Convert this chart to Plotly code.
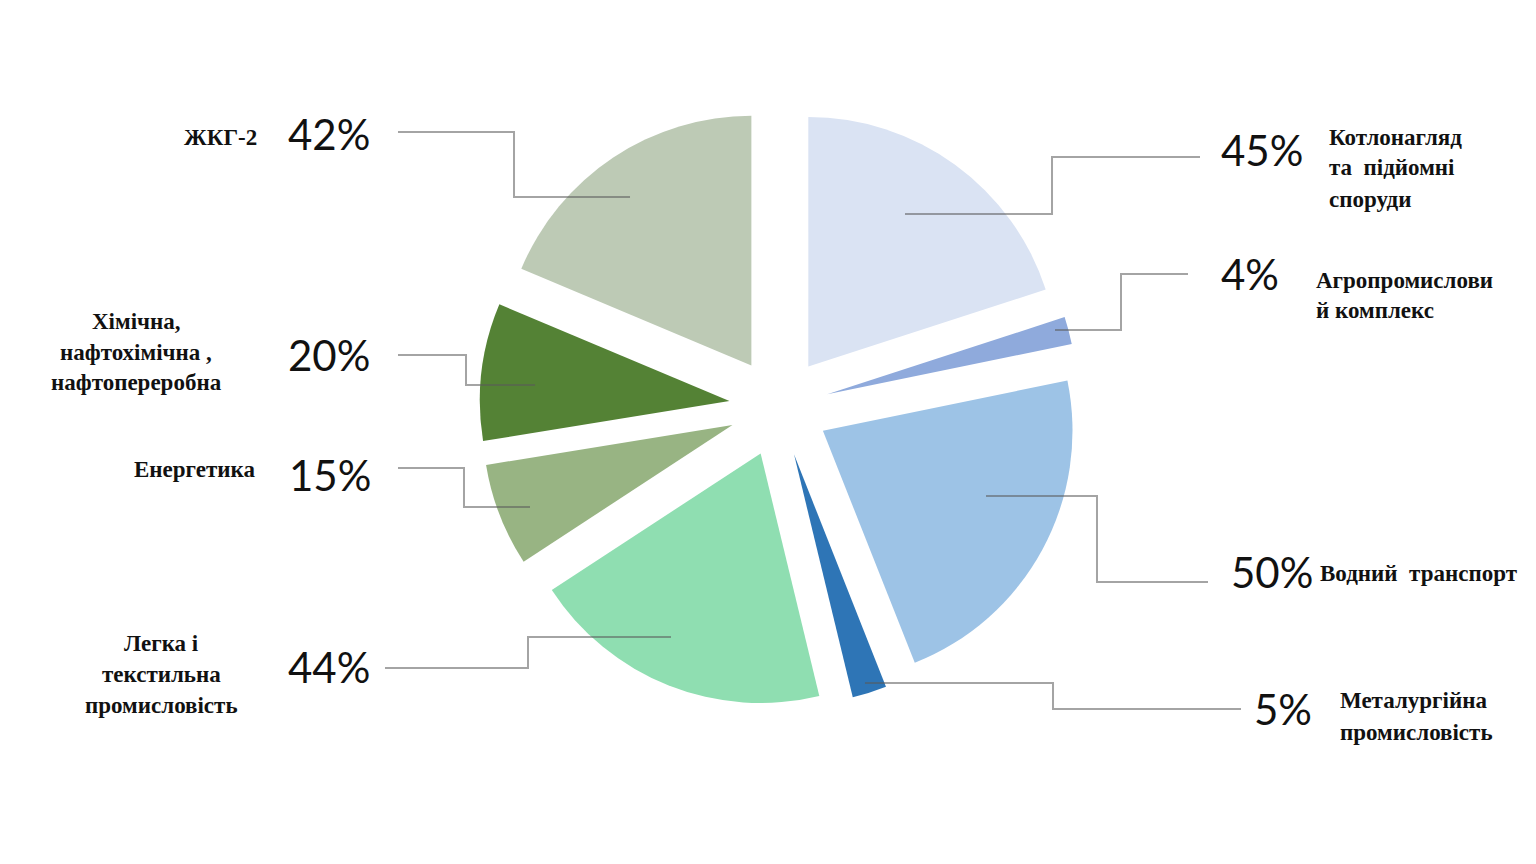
import plotly.graph_objects as go

# ---- data ----
categories = [
    "Котлонагляд та підйомні споруди",
    "Агропромисловий комплекс",
    "Водний транспорт",
    "Металургійна промисловість",
    "Легка і текстильна промисловість",
    "Енергетика",
    "Хімічна, нафтохімічна, нафтопереробна",
    "ЖКГ-2",
]
values = [45, 4, 50, 5, 44, 15, 20, 42]
pct_labels = ["45%", "4%", "50%", "5%", "44%", "15%", "20%", "42%"]
name_lines = [
    ["Котлонагляд", "та  підйомні", "споруди"],
    ["Агропромислови", "й комплекс"],
    ["Водний  транспорт"],
    ["Металургійна", "промисловість"],
    ["Легка і", "текстильна", "промисловість"],
    ["Енергетика"],
    ["Хімічна,", "нафтохімічна ,", "нафтопереробна"],
    ["ЖКГ-2"],
]
colors = ["#DAE3F3", "#8FAADC", "#9DC3E6", "#2E75B6",
          "#8FDEB1", "#98B483", "#548235", "#BDCAB5"]

# ---- layout (pixel positions of labels / leader lines) ----
W, H = 1536, 864
leaders = [
    [(905, 214), (1052, 214), (1052, 157), (1200, 157)],
    [(1055, 330), (1121, 330), (1121, 274), (1188, 274)],
    [(986, 496), (1097, 496), (1097, 582), (1208, 582)],
    [(865, 683), (1053, 683), (1053, 709), (1241, 709)],
    [(671, 637), (528, 637), (528, 668), (385, 668)],
    [(530, 507), (464, 507), (464, 468), (398, 468)],
    [(535, 385), (466, 385), (466, 355), (398, 355)],
    [(630, 197), (514, 197), (514, 132), (398, 132)],
]
pct_pos = [(1262, 150), (1250, 274), (1272, 572), (1283, 709),
           (329, 667), (330, 475), (329, 355), (329, 134)]
# (x, anchor, first-line y, line step)
name_pos = [
    (1327, "left", 137, 31),
    (1314, "left", 280, 30),
    (1318, "left", 573, 31),
    (1338, "left", 700, 32),
    (161, "center", 643, 31),
    (194, "center", 469, 31),
    (136, "center", 322, 30.5),
    (220, "center", 137, 31),
]


def px(x):
    return x / W


def py(y):
    return 1 - y / H


R_EXT = 299.5
fig = go.Figure(go.Pie(
    labels=categories,
    values=values,
    sort=False,
    direction="clockwise",
    rotation=0,
    pull=[0.2] * len(values),
    marker=dict(colors=colors, line=dict(width=0)),
    textinfo="none",
    hoverinfo="label+value",
    showlegend=False,
    domain=dict(x=[px(779 - R_EXT), px(779 + R_EXT)],
                y=[py(407 + R_EXT), py(407 - R_EXT)]),
))

shapes = []
for pts in leaders:
    path = "M " + " L ".join(f"{px(x):.5f},{py(y):.5f}" for x, y in pts)
    shapes.append(dict(type="path", xref="paper", yref="paper", path=path,
                       line=dict(color="rgba(90,90,90,0.55)", width=2)))

annotations = []
for lab, (x, y) in zip(pct_labels, pct_pos):
    annotations.append(dict(
        x=px(x), y=py(y), xref="paper", yref="paper", text=lab,
        showarrow=False, xanchor="center", yanchor="middle",
        font=dict(family="Lato, Open Sans, sans-serif", size=42, color="#111111")))

for lines, (x, anc, y0, step) in zip(name_lines, name_pos):
    for i, ln in enumerate(lines):
        annotations.append(dict(
            x=px(x), y=py(y0 + i * step), xref="paper", yref="paper",
            text=f"<b>{ln}</b>", showarrow=False, xanchor=anc, yanchor="middle",
            font=dict(family="Liberation Serif, Times New Roman, serif",
                      size=23, color="#111111")))

fig.update_layout(
    width=W, height=H,
    margin=dict(l=0, r=0, t=0, b=0),
    paper_bgcolor="white",
    plot_bgcolor="white",
    shapes=shapes,
    annotations=annotations,
)

fig.write_html("out.html", config={"displayModeBar": False},
               post_script="document.body.style.margin='0';")
